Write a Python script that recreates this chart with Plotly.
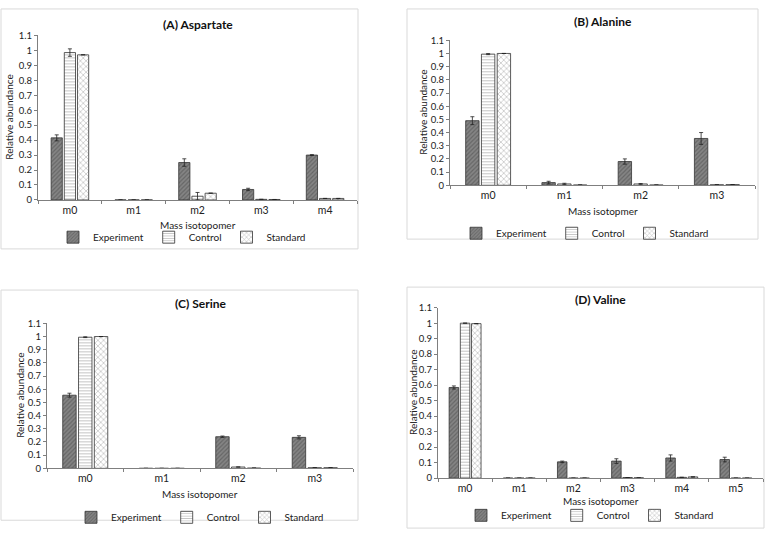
import plotly.graph_objects as go

# ---------------- data ----------------
series_names = ["Experiment", "Control", "Standard"]

a_cats = ["m0", "m1", "m2", "m3", "m4"]
a_exp = [0.415, 0.0, 0.25, 0.07, 0.30]
a_exp_err = [0.02, 0.0, 0.025, 0.008, 0.003]
a_ctl = [0.985, 0.0, 0.025, 0.004, 0.01]
a_ctl_err = [0.025, 0.0, 0.025, 0.0, 0.0]
a_std = [0.97, 0.0, 0.045, 0.003, 0.01]
a_std_err = [0.0, 0.0, 0.0, 0.0, 0.0]

b_cats = ["m0", "m1", "m2", "m3"]
b_exp = [0.49, 0.02, 0.18, 0.355]
b_exp_err = [0.03, 0.01, 0.02, 0.045]
b_ctl = [0.995, 0.01, 0.01, 0.004]
b_ctl_err = [0.004, 0.005, 0.003, 0.0]
b_std = [1.0, 0.002, 0.002, 0.005]
b_std_err = [0.0, 0.0, 0.0, 0.0]

c_cats = ["m0", "m1", "m2", "m3"]
c_exp = [0.555, 0.0, 0.24, 0.235]
c_exp_err = [0.015, 0.0, 0.005, 0.012]
c_ctl = [0.995, 0.0, 0.01, 0.005]
c_ctl_err = [0.003, 0.0, 0.0, 0.0]
c_std = [1.0, 0.0, 0.002, 0.005]
c_std_err = [0.0, 0.0, 0.0, 0.0]

d_cats = ["m0", "m1", "m2", "m3", "m4", "m5"]
d_exp = [0.585, 0.0, 0.105, 0.11, 0.13, 0.12]
d_exp_err = [0.01, 0.0, 0.005, 0.015, 0.02, 0.015]
d_ctl = [1.0, 0.0, 0.0, 0.004, 0.005, 0.0]
d_ctl_err = [0.0, 0.0, 0.0, 0.0, 0.0, 0.0]
d_std = [0.997, 0.0, 0.0, 0.002, 0.008, 0.0]
d_std_err = [0.0, 0.0, 0.0, 0.0, 0.0, 0.0]

y_ticks = [0, 0.1, 0.2, 0.3, 0.4, 0.5, 0.6, 0.7, 0.8, 0.9, 1, 1.1]
y_tick_labels = ["0", "0.1", "0.2", "0.3", "0.4", "0.5", "0.6", "0.7", "0.8", "0.9", "1", "1.1"]

titles = ["(A) Aspartate", "(B) Alanine", "(C) Serine", "(D) Valine"]
x_titles = ["Mass isotopomer", "Mass isotopmer", "Mass isotopomer", "Mass isotopomer"]

# ---------------- layout helpers ----------------
W, H = 765, 537
FONT = "Lato"

def px(x):
    return x / W

def py(y):
    return 1 - y / H

styles = [
    dict(color="#7a7a7a", pattern=dict(shape="/", fgcolor="#474747", bgcolor="#858585", size=3, solidity=0.4)),
    dict(color="white", pattern=dict(shape="-", fgcolor="#8a8a8a", bgcolor="white", size=3, solidity=0.35)),
    dict(color="white", pattern=dict(shape="x", fgcolor="#8a8a8a", bgcolor="white", size=4, solidity=0.35)),
]

panels = [
    dict(cats=a_cats, vals=[a_exp, a_ctl, a_std], errs=[a_exp_err, a_ctl_err, a_std_err],
         plot=(38, 357, 30, 198), box=(1, 358, 3, 248), title_y=19,
         xt_y=224, yt_x=9, leg_y=236, leg_x=182),
    dict(cats=b_cats, vals=[b_exp, b_ctl, b_std], errs=[b_exp_err, b_ctl_err, b_std_err],
         plot=(450, 755, 35, 183), box=(407, 758, 3, 238), title_y=16,
         xt_y=209, yt_x=423, leg_y=232, leg_x=585),
    dict(cats=c_cats, vals=[c_exp, c_ctl, c_std], errs=[c_exp_err, c_ctl_err, c_std_err],
         plot=(47, 353, 324, 472), box=(1, 358, 290, 525), title_y=304,
         xt_y=498, yt_x=20, leg_y=522, leg_x=200),
    dict(cats=d_cats, vals=[d_exp, d_ctl, d_std], errs=[d_exp_err, d_ctl_err, d_std_err],
         plot=(438, 763, 308, 482), box=(407, 764, 287, 533), title_y=300,
         xt_y=505, yt_x=413, leg_y=520, leg_x=590),
]

fig = go.Figure()
shapes = []
annotations = []
layout_axes = {}

for i, p in enumerate(panels):
    n = i + 1
    xa = "x" if n == 1 else f"x{n}"
    ya = "y" if n == 1 else f"y{n}"
    leg = "legend" if n == 1 else f"legend{n}"
    for s in range(3):
        fig.add_trace(go.Bar(
            x=p["cats"], y=p["vals"][s], name=series_names[s],
            xaxis=xa, yaxis=ya, legend=leg,
            marker=dict(color=styles[s]["color"], pattern=styles[s]["pattern"],
                        line=dict(color="#333333", width=0.8)),
            error_y=dict(type="data", array=p["errs"][s], visible=True,
                         color="#222222", thickness=0.8, width=2),
        ))
    x0, x1, y1, y0 = p["plot"]
    xkey = "xaxis" if n == 1 else f"xaxis{n}"
    ykey = "yaxis" if n == 1 else f"yaxis{n}"
    layout_axes[xkey] = dict(
        domain=[px(x0), px(x1)], anchor=ya, type="category",
        showline=True, linecolor="#7f7f7f", linewidth=1,
        ticks="outside", tickson="boundaries", ticklen=3, tickcolor="#7f7f7f",
        tickfont=dict(family=FONT, size=10.5, color="#222"),
        showgrid=False, zeroline=False, fixedrange=True,
    )
    layout_axes[ykey] = dict(
        domain=[py(y0), py(y1)], anchor=xa, range=[0, 1.1],
        tickvals=y_ticks, ticktext=y_tick_labels,
        showline=True, linecolor="#7f7f7f", linewidth=1,
        ticks="outside", ticklen=3, tickcolor="#7f7f7f",
        tickfont=dict(family=FONT, size=9.5, color="#222"),
        showgrid=False, zeroline=False, fixedrange=True,
    )
    layout_axes[leg] = dict(
        orientation="h", x=px(p["leg_x"]), y=py(p["leg_y"]),
        xanchor="center", yanchor="middle",
        font=dict(family=FONT, size=10, color="#222"),
        bgcolor="rgba(0,0,0,0)", itemwidth=30, tracegroupgap=0,
    )
    bx0, bx1, by0, by1 = p["box"]
    shapes.append(dict(type="rect", xref="paper", yref="paper",
                       x0=px(bx0), x1=px(bx1), y0=py(by1), y1=py(by0),
                       line=dict(color="#d9d9d9", width=1), layer="below"))
    annotations.append(dict(text=f"<b>{titles[i]}</b>", xref="paper", yref="paper",
                            x=px((x0 + x1) / 2), y=py(p["title_y"]), showarrow=False,
                            xanchor="center", yanchor="middle",
                            font=dict(family=FONT, size=12, color="#111")))
    annotations.append(dict(text=x_titles[i], xref="paper", yref="paper",
                            x=px((x0 + x1) / 2), y=py(p["xt_y"]), showarrow=False,
                            xanchor="center", yanchor="middle",
                            font=dict(family=FONT, size=10, color="#222")))
    annotations.append(dict(text="Relative abundance", xref="paper", yref="paper",
                            x=px(p["yt_x"]), y=py((y0 + y1) / 2), showarrow=False,
                            textangle=-90, xanchor="center", yanchor="middle",
                            font=dict(family=FONT, size=10, color="#222")))

fig.update_layout(
    width=W, height=H, margin=dict(l=0, r=0, t=0, b=0),
    paper_bgcolor="white", plot_bgcolor="white",
    barmode="group", bargap=0.38, bargroupgap=0.15,
    shapes=shapes, annotations=annotations, showlegend=True,
    font=dict(family=FONT, size=10),
    **layout_axes,
)

post = (
    "document.documentElement.style.margin='0';"
    "document.body.style.margin='0';document.body.style.padding='0';"
    "document.body.style.overflow='hidden';"
    "var gd=document.getElementById('{plot_id}');"
    "gd.style.position='fixed';gd.style.top='0px';gd.style.left='0px';"
)

fig.write_html("out.html", config={"displayModeBar": False}, post_script=post)
